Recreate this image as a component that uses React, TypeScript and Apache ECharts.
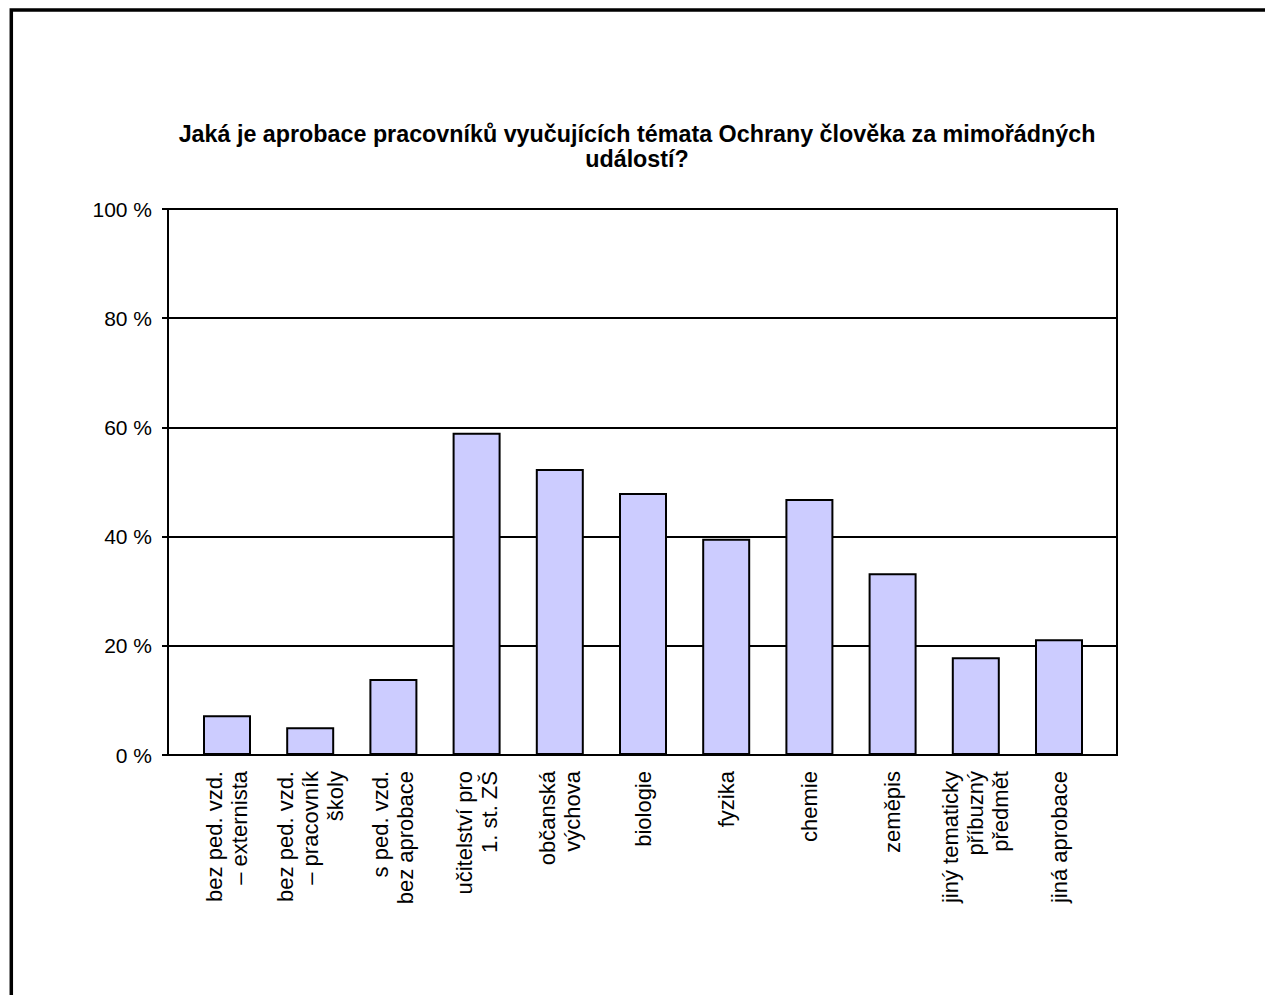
import React, { useEffect, useRef } from "react";
import * as echarts from "echarts";

const titleText =
  "Jaká je aprobace pracovníků vyučujících témata Ochrany člověka za mimořádných\nudálostí?";

const categories: string[] = [
  "bez ped. vzd.\n– externista",
  "bez ped. vzd.\n– pracovník\nškoly",
  "s ped. vzd.\nbez aprobace",
  "učitelství pro\n1. st. ZŠ",
  "občanská\nvýchova",
  "biologie",
  "fyzika",
  "chemie",
  "zeměpis",
  "jiný tematicky\npříbuzný\npředmět",
  "jiná aprobace",
];

const percentValues: number[] = [7.3, 5.1, 13.9, 59.0, 52.4, 48.0, 39.6, 46.9, 33.3, 17.9, 21.2];

const yMin = 0;
const yMax = 100;
const yInterval = 20;

const FONT = '"Liberation Sans", Arial, sans-serif';

export default function App() {
  const ref = useRef<HTMLDivElement>(null);

  useEffect(() => {
    if (!ref.current) return;
    const chart = echarts.init(ref.current, undefined, { renderer: "svg" });
    const plotTop = 209;
    const plotHeight = 546;
    chart.setOption({
      animation: false,
      backgroundColor: "#ffffff",
      textStyle: { fontFamily: FONT, color: "#000" },
      title: {
        text: titleText,
        left: 637,
        top: 121,
        textAlign: "center",
        padding: 0,
        textStyle: {
          fontFamily: FONT,
          fontSize: 23.3,
          fontWeight: "bold",
          color: "#000",
          lineHeight: 25,
        },
      },
      graphic: [
        {
          type: "rect",
          shape: { x: 11.3, y: 10, width: 1300, height: 1100 },
          style: { fill: "none", stroke: "#000", lineWidth: 3.5 },
          silent: true,
        },
      ],
      grid: [
        {
          left: 168,
          top: plotTop,
          width: 949,
          height: plotHeight,
          show: true,
          borderColor: "#000",
          borderWidth: 2,
          backgroundColor: "transparent",
        },
        {
          left: 185.4,
          top: plotTop,
          width: 915.2,
          height: plotHeight,
        },
      ],
      xAxis: [
        {
          gridIndex: 0,
          type: "value",
          min: 0,
          max: 1,
          show: false,
        },
        {
          gridIndex: 1,
          type: "category",
          data: categories,
          axisLine: { show: false },
          axisTick: { show: false },
          axisLabel: {
            rotate: 90,
            interval: 0,
            margin: 16,
            fontFamily: FONT,
            fontSize: 22,
            lineHeight: 25,
            color: "#000",
            align: "right",
          },
        },
      ],
      yAxis: [
        {
          gridIndex: 0,
          type: "value",
          min: yMin,
          max: yMax,
          interval: yInterval,
          axisLine: { show: true, lineStyle: { color: "#000", width: 2 } },
          axisTick: { show: true, length: 6, lineStyle: { color: "#000", width: 2 } },
          axisLabel: {
            formatter: "{value} %",
            margin: 16,
            fontFamily: FONT,
            fontSize: 21,
            color: "#000",
          },
          splitLine: { show: true, lineStyle: { color: "#000", width: 2 } },
        },
        {
          gridIndex: 1,
          type: "value",
          min: yMin,
          max: yMax,
          show: false,
          splitLine: { show: false },
        },
      ],
      series: [
        {
          type: "bar",
          xAxisIndex: 1,
          yAxisIndex: 1,
          data: percentValues,
          barWidth: 48,
          itemStyle: { color: "#CCCCFF", borderColor: "#000", borderWidth: 2 },
        },
      ],
    });
    return () => chart.dispose();
  }, []);

  return (
    <div
      ref={ref}
      style={{ position: "fixed", left: 0, top: 0, width: 1265, height: 995 }}
    />
  );
}
